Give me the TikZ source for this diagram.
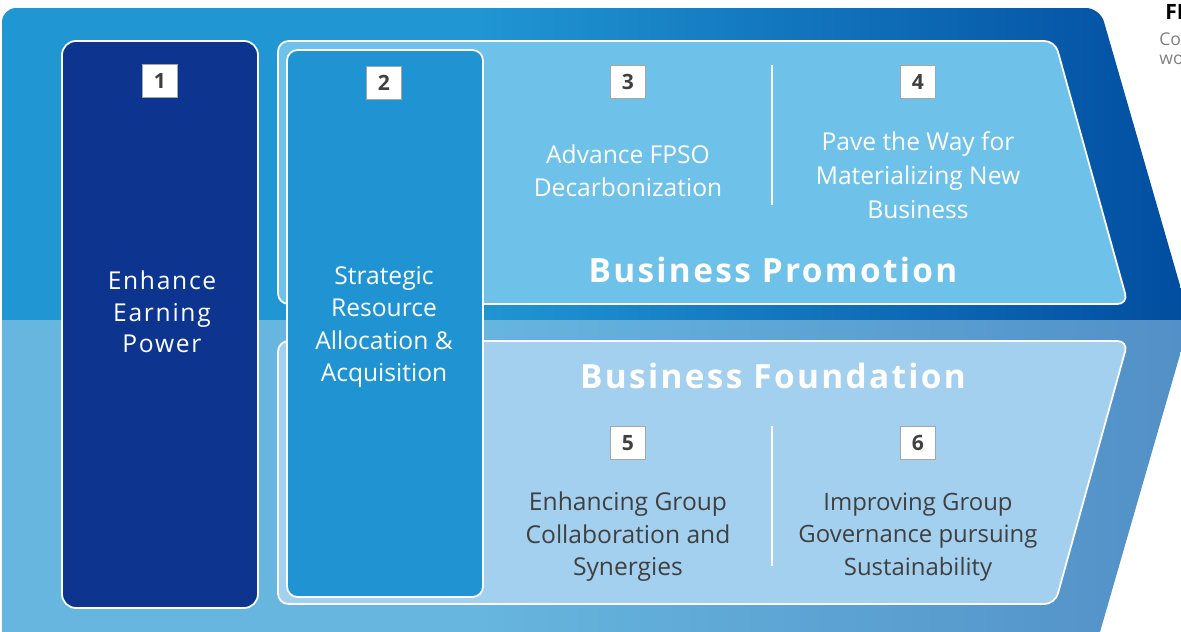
\documentclass[tikz,border=0pt]{standalone}
\usepackage{fontspec}
\setmainfont{Open Sans}
\usetikzlibrary{positioning}

\definecolor{bleuclair}{HTML}{2096D3}
\definecolor{bleufonce}{HTML}{004A9E}
\definecolor{cielclair}{HTML}{66B6DF}
\definecolor{cielfonce}{HTML}{4F89C2}
\definecolor{promo}{HTML}{6EC1E8}
\definecolor{fondation}{HTML}{A3D0EF}
\definecolor{marine}{HTML}{0D3590}
\definecolor{azur}{HTML}{2094D2}
\definecolor{gristexte}{HTML}{404040}

\pgfdeclarehorizontalshading{bandehaut}{100bp}{color(0bp)=(bleuclair); color(45bp)=(bleuclair); color(76bp)=(bleufonce); color(100bp)=(bleufonce)}
\pgfdeclarehorizontalshading{bandebas}{100bp}{color(0bp)=(cielclair); color(45bp)=(cielclair); color(80bp)=(cielfonce); color(100bp)=(cielfonce)}

\begin{document}
\begin{tikzpicture}[x=0.02cm, y=-0.02cm]
	\tikzset{numero/.style={draw=gray!70, fill=white, line width=0.6pt, minimum width=20pt, minimum height=19pt, inner sep=0pt, font=\fontsize{12}{12}\selectfont\bfseries, text=gristexte},
	bloc/.style={draw=white, line width=1pt, rounded corners=6pt},
	texte/.style={align=center, font=\fontsize{14}{18.5}\selectfont},
	titre/.style={font=\fontsize{19}{19}\selectfont\bfseries\addfontfeatures{LetterSpace=7}, text=white},
	separateur/.style={draw=white, line width=1pt}};

	\useasboundingbox (0,0) rectangle (1181,632);

	% the big arrow, in two bands
	\shade[shading=bandehaut, rounded corners=8pt] (2,320) -- (2,8) -- (1100,8) [sharp corners] -- (1190,320) -- cycle;
	\shade[shading=bandebas] (2,320) -- (1190,320) -- (1100,632) -- (2,632) -- cycle;

	% the two chevron panels
	\draw[bloc, fill=promo] (278,41) -- (1055,41) -- (1128,304) -- (278,304) -- cycle;
	\draw[bloc, fill=fondation] (278,341) -- (1128,341) -- (1055,604) -- (278,604) -- cycle;

	% pillars 1 and 2
	\draw[bloc, fill=marine, rounded corners=8pt] (62,41) rectangle (258,608);
	\draw[bloc, fill=azur, rounded corners=6pt] (287,50) rectangle (483,597);

	\foreach \name/\x/\y in {1/160/81, 2/384/83, 3/628/82, 4/918/82, 5/628/443, 6/918/443}{
		\node[numero] (n\name) at (\x,\y) {\name};
	}

	\draw[separateur] (772,65) -- (772,205);
	\draw[separateur] (772,426) -- (772,566);

	\node[texte, text=white, font=\fontsize{14}{18}\selectfont\addfontfeatures{LetterSpace=7}] (gain) at (162,312) {Enhance\\Earning\\Power};
	\node[texte, text=white] (ressource) at (384,327) {Strategic\\Resource\\Allocation \&\\Acquisition};
	\node[texte, text=white] (fpso) at (628,171) {Advance FPSO\\Decarbonization};
	\node[texte, text=white, font=\fontsize{14}{19.5}\selectfont] (voie) at (918,175) {Pave the Way for\\Materializing New\\Business};
	\node[titre] (promotion) at (773,270) {Business Promotion};
	\node[titre] (fondation) at (773,376) {Business Foundation};
	\node[texte, text=gristexte] (synergie) at (628,537) {Enhancing Group\\Collaboration and\\Synergies};
	\node[texte, text=gristexte, font=\fontsize{13.6}{18.5}\selectfont] (gouvernance) at (918,537) {Improving Group\\Governance pursuing\\Sustainability};

	% neighbouring text, cut by the page edge
	\node[anchor=west, font=\fontsize{12}{12}\selectfont\bfseries, inner sep=0pt] (fi) at (1165,12) {FI};
	\node[anchor=west, font=\fontsize{10}{10}\selectfont, text=gray, inner sep=0pt] (co) at (1159,39) {Co};
	\node[anchor=west, font=\fontsize{10}{10}\selectfont, text=gray, inner sep=0pt] (wo) at (1159,60) {wo};

\end{tikzpicture}
\end{document}
